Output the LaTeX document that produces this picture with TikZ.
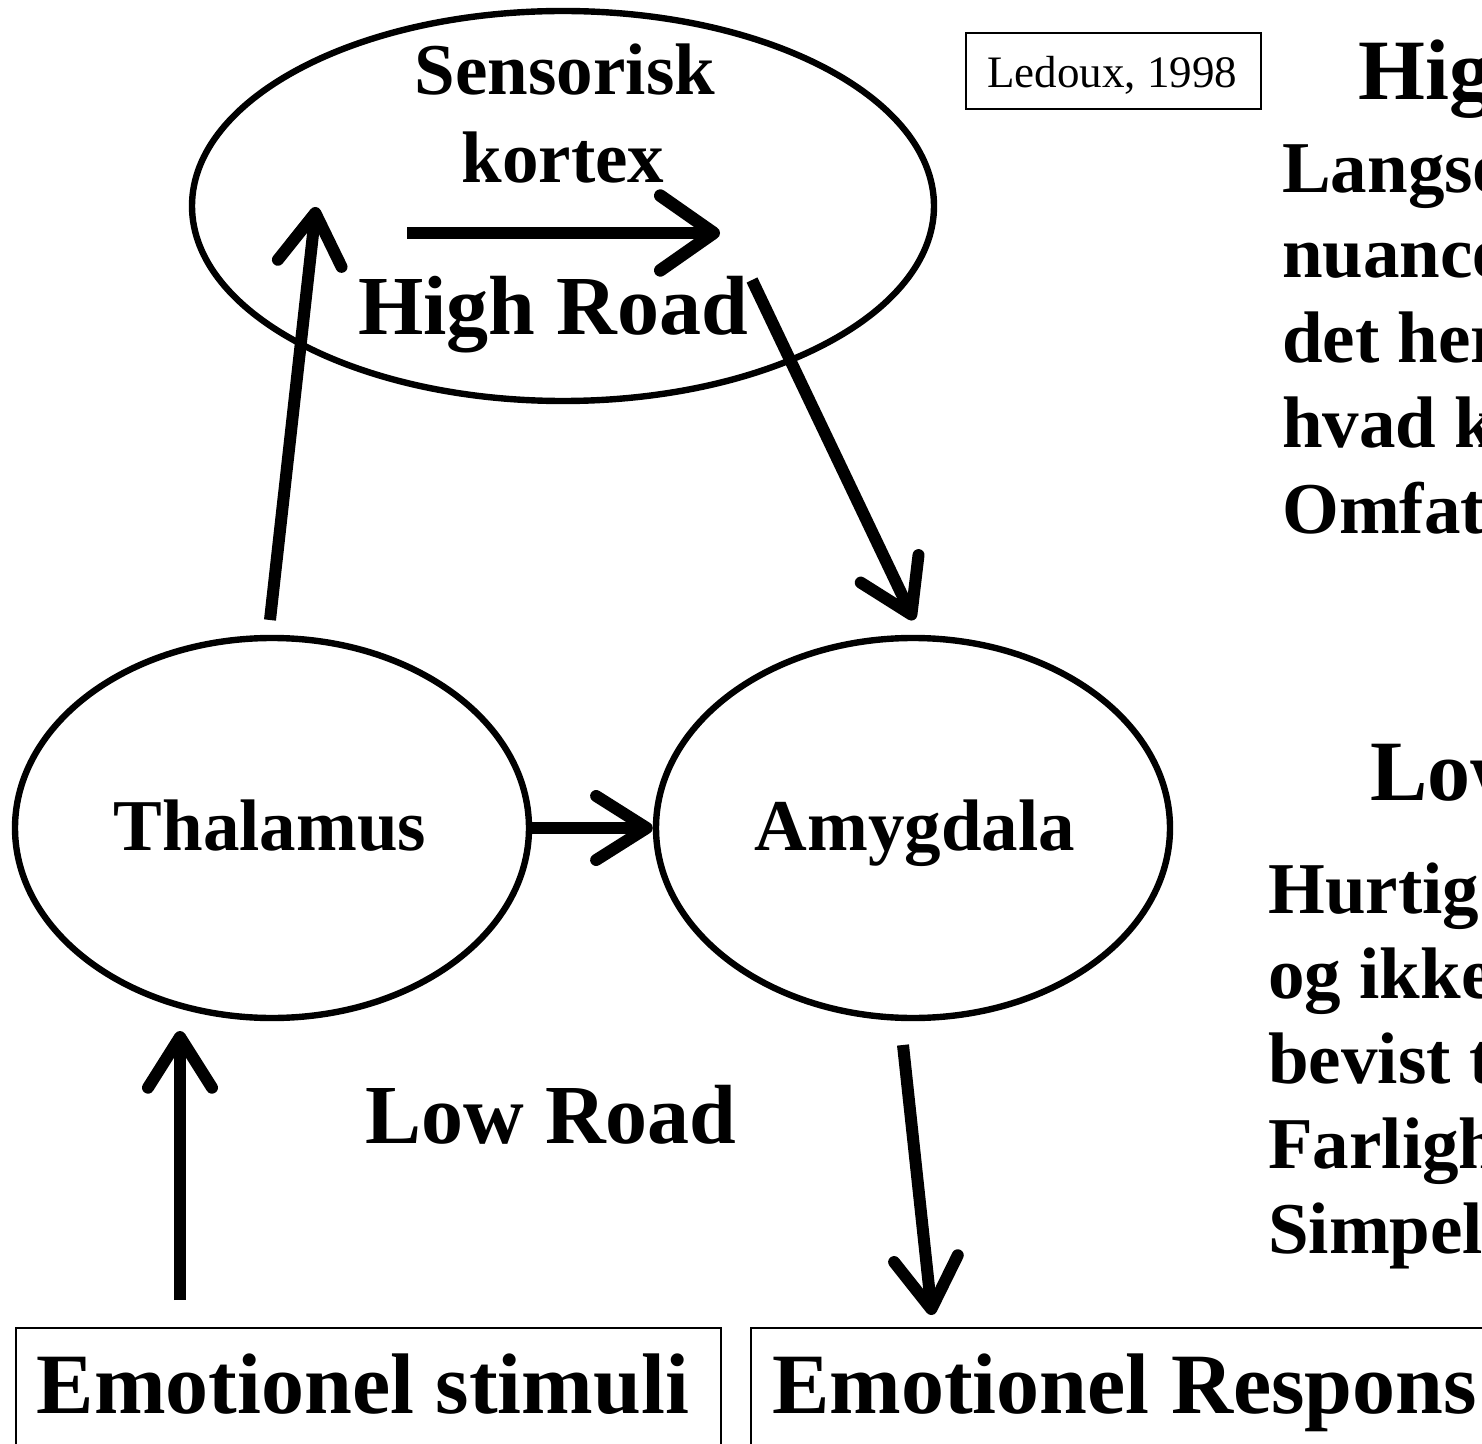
\documentclass[tikz,border=0pt]{standalone}
\usepackage{fontspec}
\setmainfont{Liberation Serif}
\usetikzlibrary{arrows.meta,shapes.geometric}
\begin{document}
\begin{tikzpicture}[x=0.75pt,y=-0.75pt,
  oval/.style={ellipse,draw,line width=4.8pt,inner sep=0pt},
  arr/.style={line width=9pt,-{Straight Barb[length=38pt,width=48pt,round]}},
  bigarr/.style={line width=9.5pt,-{Straight Barb[length=40pt,width=56pt,round]}},
  txt/.style={inner sep=0pt,anchor=base,font=\fontsize{54.75}{60}\selectfont\bfseries},
  road/.style={inner sep=0pt,anchor=base,font=\fontsize{63}{70}\selectfont\bfseries},
  side/.style={inner sep=0pt,anchor=base west,font=\fontsize{54.75}{60}\selectfont\bfseries},
  sidehead/.style={inner sep=0pt,anchor=base west,font=\fontsize{64.5}{70}\selectfont\bfseries},
  box/.style={draw,line width=1.5pt,inner sep=0pt,anchor=north west}]
\useasboundingbox (0,0) rectangle (1482,1444);
\clip (0,0) rectangle (1482,1444);

% ovals
\node[oval,minimum width=556.5pt,minimum height=292.5pt] (sens) at (563,206) {};
\node[oval,minimum width=385.5pt,minimum height=285pt] (thal) at (272,828) {};
\node[oval,minimum width=385.5pt,minimum height=285pt] (amy) at (913,828) {};

% oval texts
\node[txt] (t1) at (565,95) {Sensorisk};
\node[txt] (t2) at (563,183) {kortex};
\node[road] (hr) at (553,335) {High Road};
\node[txt] (t3) at (270,850) {Thalamus};
\node[txt] (t4) at (915,850) {Amygdala};
\node[road] (lr) at (551,1143) {Low Road};

% boxes
\node[box,minimum width=528.75pt,minimum height=97.5pt] (stim) at (15,1327) {};
\node[inner sep=0pt,anchor=base,font=\fontsize{64.5}{70}\selectfont\bfseries] (stimt) at (363,1413) {Emotionel stimuli};
\node[box,minimum width=600pt,minimum height=97.5pt] (resp) at (750,1327) {};
\node[inner sep=0pt,anchor=base west,font=\fontsize{64.5}{70}\selectfont\bfseries] (respt) at (772,1413) {Emotionel Respons};

\node[box,minimum width=221.25pt,minimum height=57pt] (led) at (965,32) {};
\node[inner sep=0pt,anchor=base,font=\fontsize{33.75}{40}\selectfont] (ledt) at (1112,88) {Ledoux, 1998};

% side texts
\node[sidehead] (s1) at (1358,100) {High};
\node[side] (s2) at (1282,193) {Langso};
\node[side] (s3) at (1282,278) {nuance};
\node[side] (s4) at (1282,363) {det her};
\node[side] (s5) at (1282,448) {hvad k};
\node[side] (s6) at (1282,533) {Omfat};
\node[sidehead] (s7) at (1370,800) {Low};
\node[side] (s8) at (1268,913) {Hurtig};
\node[side] (s9) at (1268,998) {og ikke};
\node[side] (s10) at (1268,1083) {bevist t};
\node[side] (s11) at (1268,1168) {Farligh};
\node[side] (s12) at (1268,1253) {Simpel};

% connector end points
\coordinate (inA) at (407,233);
\coordinate (inB) at (720,233);
\coordinate (upA) at (270,620);
\coordinate (upB) at (316,207);
\coordinate (dnA) at (752,280);
\coordinate (dnB) at (914,620);
\coordinate (stA) at (180,1300);
\coordinate (stB) at (180,1031);
\coordinate (reA) at (903,1045);
\coordinate (reB) at (932,1315);

% connectors
\draw[bigarr] (inA) -- (inB);
\draw[arr] (upA) -- (upB);
\draw[arr] (dnA) -- (dnB);
\draw[arr] (thal.east) -- (amy.west);
\draw[arr] (stA) -- (stB);
\draw[arr] (reA) -- (reB);
\end{tikzpicture}
\end{document}
